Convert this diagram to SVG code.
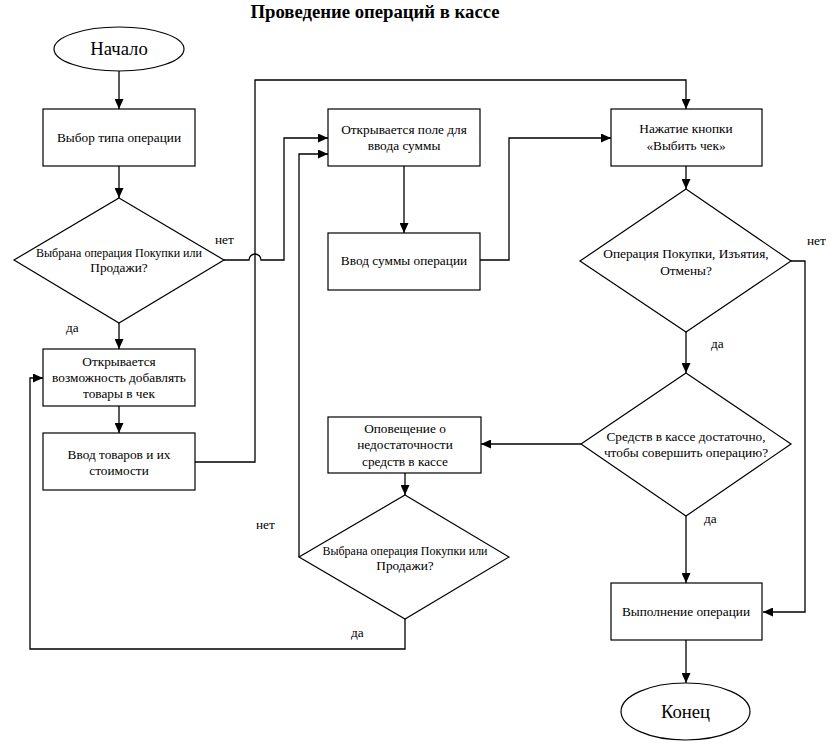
<svg xmlns="http://www.w3.org/2000/svg" width="835" height="748" viewBox="0 0 835 748">
  <style>
    .shape { fill: #ffffff; stroke: #000000; stroke-width: 1.2; }
    .conn { fill: none; stroke: #000000; stroke-width: 1.3; }
    text { fill: #000000; font-family: "Liberation Serif", serif; }
    .t { font-size: 13.3px; text-anchor: middle; }
    .big { font-size: 18.7px; }
    .lbl { font-size: 13.3px; }
    .title { font-size: 18.7px; font-weight: bold; text-anchor: middle; }
  </style>
  <defs>
    <marker id="arrow" markerUnits="userSpaceOnUse" markerWidth="10" markerHeight="9" refX="10" refY="4.5" orient="auto">
      <path d="M0,0 L10,4.5 L0,9 z" fill="#000000"/>
    </marker>
  </defs>

  <rect width="835" height="748" fill="#ffffff"/>

  <text class="title" x="375" y="18">Проведение операций в кассе</text>

  <g id="connectors">
    <path class="conn" d="M119,71 V109" marker-end="url(#arrow)"/>
    <path class="conn" d="M119,166 V198" marker-end="url(#arrow)"/>
    <path class="conn" d="M119,323 V349" marker-end="url(#arrow)"/>
    <path class="conn" d="M119,406 V433" marker-end="url(#arrow)"/>
    <!-- "no" branch of the first decision, hopping over the vertical line -->
    <path class="conn" d="M224,260 H249 A6,6 0 0 1 261,260 H284 V138 H328" marker-end="url(#arrow)"/>
    <!-- goods entry to receipt button -->
    <path class="conn" d="M195,462 H255 V80 H686 V109" marker-end="url(#arrow)"/>
    <path class="conn" d="M404,166 V233" marker-end="url(#arrow)"/>
    <path class="conn" d="M480,260 H509 V138 H611" marker-end="url(#arrow)"/>
    <path class="conn" d="M686,166 V189" marker-end="url(#arrow)"/>
    <path class="conn" d="M686,332 V373" marker-end="url(#arrow)"/>
    <path class="conn" d="M791,261 H805 V612 H763" marker-end="url(#arrow)"/>
    <path class="conn" d="M686,516 V583" marker-end="url(#arrow)"/>
    <path class="conn" d="M686,640 V683" marker-end="url(#arrow)"/>
    <path class="conn" d="M581,444 H481" marker-end="url(#arrow)"/>
    <path class="conn" d="M405,473 V495" marker-end="url(#arrow)"/>
    <path class="conn" d="M299,557 V154 H328" marker-end="url(#arrow)"/>
    <path class="conn" d="M405,619 V649 H30 V378 H43" marker-end="url(#arrow)"/>
  </g>

  <g id="start">
    <ellipse class="shape" cx="119" cy="49" rx="65" ry="22"/>
    <text class="t big" x="119" y="55">Начало</text>
  </g>

  <g id="choose-type">
    <rect class="shape" x="43" y="109" width="152" height="57"/>
    <text class="t" x="119" y="142">Выбор типа операции</text>
  </g>

  <g id="decision-sale">
    <polygon class="shape" points="119,198 224,260 119,323 14,260"/>
    <text class="t" x="119" y="257" textLength="166" lengthAdjust="spacingAndGlyphs">Выбрана операция Покупки или</text>
    <text class="t" x="119" y="272">Продажи?</text>
  </g>

  <g id="open-goods">
    <rect class="shape" x="43" y="349" width="152" height="57"/>
    <text class="t" x="119" y="366">Открывается</text>
    <text class="t" x="119" y="382">возможность добавлять</text>
    <text class="t" x="119" y="398">товары в чек</text>
  </g>

  <g id="enter-goods">
    <rect class="shape" x="43" y="433" width="152" height="57"/>
    <text class="t" x="119" y="459">Ввод товаров и их</text>
    <text class="t" x="119" y="475">стоимости</text>
  </g>

  <g id="open-sum">
    <rect class="shape" x="328" y="109" width="152" height="57"/>
    <text class="t" x="404" y="134">Открывается поле для</text>
    <text class="t" x="404" y="150">ввода суммы</text>
  </g>

  <g id="enter-sum">
    <rect class="shape" x="328" y="233" width="152" height="57"/>
    <text class="t" x="404" y="265">Ввод суммы операции</text>
  </g>

  <g id="press-button">
    <rect class="shape" x="611" y="109" width="151" height="57"/>
    <text class="t" x="686" y="133">Нажатие кнопки</text>
    <text class="t" x="686" y="150">«Выбить чек»</text>
  </g>

  <g id="decision-type">
    <polygon class="shape" points="686,189 791,261 686,332 580,261"/>
    <text class="t" x="686" y="258">Операция Покупки, Изъятия,</text>
    <text class="t" x="686" y="275">Отмены?</text>
  </g>

  <g id="decision-funds">
    <polygon class="shape" points="686,373 791,444 686,516 581,444"/>
    <text class="t" x="686" y="441">Средств в кассе достаточно,</text>
    <text class="t" x="686" y="457">чтобы совершить операцию?</text>
  </g>

  <g id="notify">
    <rect class="shape" x="328" y="417" width="153" height="56"/>
    <text class="t" x="405" y="433">Оповещение о</text>
    <text class="t" x="405" y="449">недостаточности</text>
    <text class="t" x="405" y="466">средств в кассе</text>
  </g>

  <g id="decision-sale-2">
    <polygon class="shape" points="405,495 509,557 405,619 299,557"/>
    <text class="t" x="405" y="555" textLength="165" lengthAdjust="spacingAndGlyphs">Выбрана операция Покупки или</text>
    <text class="t" x="405" y="570">Продажи?</text>
  </g>

  <g id="execute">
    <rect class="shape" x="611" y="583" width="151" height="57"/>
    <text class="t" x="686" y="616">Выполнение операции</text>
  </g>

  <g id="end">
    <ellipse class="shape" cx="685.5" cy="711.5" rx="64.5" ry="28.5"/>
    <text class="t big" x="685.5" y="718">Конец</text>
  </g>

  <g id="branch-labels">
    <text class="lbl" x="215" y="244">нет</text>
    <text class="lbl" x="66" y="332">да</text>
    <text class="lbl" x="807" y="245">нет</text>
    <text class="lbl" x="711" y="348">да</text>
    <text class="lbl" x="704" y="523">да</text>
    <text class="lbl" x="256" y="529">нет</text>
    <text class="lbl" x="351" y="637">да</text>
  </g>
</svg>
